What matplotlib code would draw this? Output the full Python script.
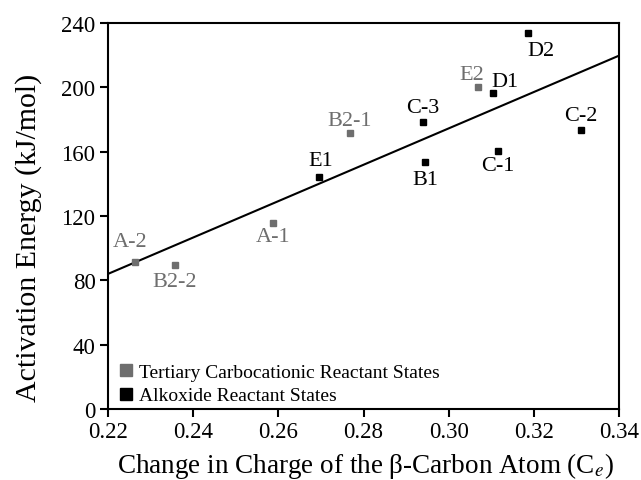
import matplotlib
matplotlib.use("Agg")
import matplotlib.pyplot as plt

plt.rcParams['font.family'] = ['Liberation Serif', 'DejaVu Serif']
plt.rcParams['mathtext.fontset'] = 'stix'

# tertiary carbocationic reactant states (gray)
tert_names = ["A-2", "B2-2", "A-1", "B2-1", "E2"]
tert_x = [0.2263, 0.2357, 0.2587, 0.2768, 0.3070]
tert_y = [91.6, 89.5, 115.7, 171.6, 200.0]

# alkoxide reactant states (black)
alk_names = ["E1", "C-3", "B1", "D1", "C-1", "D2", "C-2"]
alk_x = [0.2696, 0.2939, 0.2945, 0.3103, 0.3116, 0.3186, 0.3311]
alk_y = [144.5, 178.3, 153.4, 196.3, 160.6, 233.6, 173.5]

# linear fit drawn across the axis
fit_x = [0.22, 0.34]
fit_y = [84.0, 219.7]

# label offsets in pixels (dx, dy)
tert_off = [(-5, 20), (0, -16), (0, -14), (0, 13), (-7, 13)]
alk_off = [(2, 16), (0, 15), (0, -17), (12, 12), (0, -15), (13, -17), (0, 14)]

gray = "#6e6e6e"

fig = plt.figure(figsize=(6.41, 4.81), dpi=100)
ax = fig.add_axes([108/641, 1-410/481, (619-108)/641, (410-24)/481])

ax.plot(fit_x, fit_y, color="black", lw=1.5, zorder=1)
ax.plot(tert_x, tert_y, "s", color=gray, ms=5, ls="none",
        label="Tertiary Carbocationic Reactant States", zorder=2)
ax.plot(alk_x, alk_y, "s", color="black", ms=5, ls="none",
        label="Alkoxide Reactant States", zorder=2)

for n, x, y, o in zip(tert_names, tert_x, tert_y, tert_off):
    ax.annotate(n, (x, y), xytext=o, textcoords="offset pixels",
                ha="center", va="center", fontsize=16, color=gray)
for n, x, y, o in zip(alk_names, alk_x, alk_y, alk_off):
    ax.annotate(n, (x, y), xytext=o, textcoords="offset pixels",
                ha="center", va="center", fontsize=16, color="black")

ax.set_xlim(0.22, 0.34)
ax.set_ylim(0, 240)
ax.set_xticks([0.22, 0.24, 0.26, 0.28, 0.30, 0.32, 0.34])
ax.set_xticklabels(["0.22", "0.24", "0.26", "0.28", "0.30", "0.32", "0.34"])
ax.set_yticks([0, 40, 80, 120, 160, 200, 240])
ax.tick_params(direction="out", length=6, width=1.5, labelsize=16.5,
               top=False, right=False, pad=3)
for s in ax.spines.values():
    s.set_linewidth(1.5)

ax.set_xlabel(r"Change in Charge of the β-Carbon Atom (C$_{e}$)", fontsize=19.5)
ax.xaxis.label.set_va("baseline")
ax.xaxis.set_label_coords(0.503, -0.164)
ax.set_ylabel("Activation Energy (kJ/mol)", fontsize=21.5)
ax.yaxis.set_label_coords(-0.130, 0.447)

ax.legend(loc="lower left", frameon=False, fontsize=14, handlelength=0.6,
          handletextpad=0.4, borderaxespad=0.0, labelspacing=0.3, markerscale=1.6,
          bbox_to_anchor=(0.008, -0.008))

fig.savefig("out.png", dpi=100)
